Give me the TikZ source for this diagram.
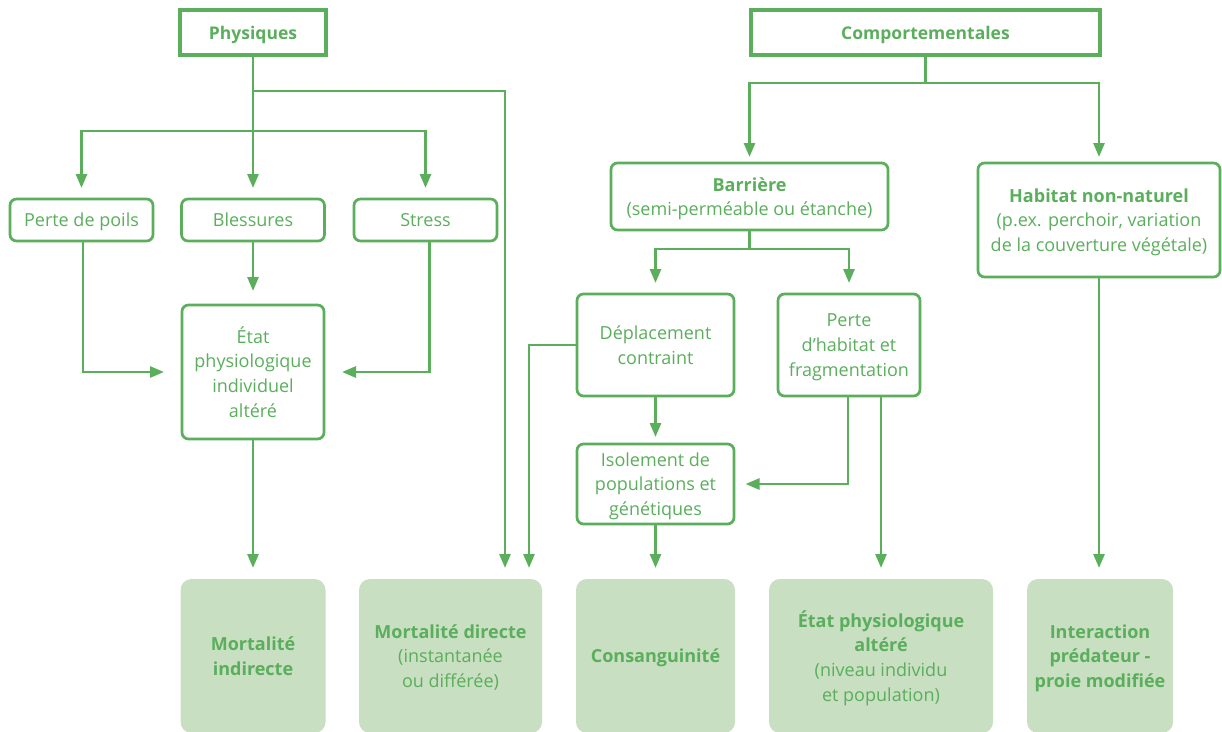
\documentclass[tikz,border=0pt]{standalone}
\usepackage{fontspec}
\setmainfont{Open Sans}
\usetikzlibrary{arrows.meta}
\definecolor{gr}{HTML}{5AAE5C}
\definecolor{lg}{HTML}{C8DFC1}
\tikzset{
 base/.style={font=\fontsize{18}{24.8}\selectfont, text=gr, align=center, inner sep=0pt, outer sep=0pt, text depth=0pt},
 box/.style={base, draw=gr, line width=2.7pt, rounded corners=6.5pt},
 titlebox/.style={base, draw=gr, line width=4.6pt, font=\fontsize{17.5}{24.8}\selectfont\bfseries},
 result/.style={base, fill=lg, rounded corners=11pt, minimum height=154pt},
 link/.style={draw=gr, line width=2.7pt},
 conn/.style={link, -{Triangle[length=14pt,width=11pt]}}
}
\begin{document}
\begin{tikzpicture}[x=1pt,y=-1pt]
\useasboundingbox (0,0) rectangle (1222,731);
% title boxes
\node[titlebox, minimum width=146pt, minimum height=45pt] (phys) at (253,32.5) {Physiques};
\node[titlebox, minimum width=349pt, minimum height=45pt] (comp) at (925.5,32.5) {Comportementales};
% left branch
\node[box, minimum width=143pt, minimum height=42pt] (perte) at (81.5,220) {Perte de poils};
\node[box, minimum width=143pt, minimum height=42pt] (bless) at (253,220) {Blessures};
\node[box, minimum width=143pt, minimum height=42pt] (stress) at (425.5,220) {Stress};
\node[box, minimum width=142pt, minimum height=134pt] (etat) at (253,372) {État\\physiologique\\individuel\\altéré};
% right branch
\node[box, minimum width=277pt, minimum height=67pt] (barr) at (749.5,196.5) {\textbf{Barrière}\\(semi-perméable ou étanche)};
\node[box, minimum width=242pt, minimum height=114pt] (habit) at (1099,220) {\textbf{Habitat non-naturel}\\(p.ex. perchoir, variation\\de la couverture végétale)};
\node[box, minimum width=157pt, minimum height=102pt] (depl) at (655.5,345) {Déplacement\\contraint};
\node[box, minimum width=142pt, minimum height=102pt] (pertehab) at (849,345) {Perte\\d’habitat et\\fragmentation};
\node[box, minimum width=157pt, minimum height=80pt] (isol) at (655.5,484) {Isolement de\\populations et\\génétiques};
% results
\node[result, minimum width=145pt] (mind) at (253,656) {\textbf{Mortalité}\\\textbf{indirecte}};
\node[result, minimum width=183pt] (mdir) at (450.5,656) {\textbf{Mortalité directe}\\(instantanée\\ou différée)};
\node[result, minimum width=159pt] (cons) at (655.5,656) {\textbf{Consanguinité}};
\node[result, minimum width=224pt] (etatpop) at (881,656) {\textbf{État physiologique}\\\textbf{altéré}\\(niveau individu\\et population)};
\node[result, minimum width=146pt] (inter) at (1100,656) {\textbf{Interaction}\\\textbf{prédateur -}\\\textbf{proie modifiée}};
% junctions
\coordinate (pj0) at (253,91);
\coordinate (pj1) at (253,131);
\coordinate (cj) at (925.5,83);
\coordinate (bj) at (749.5,249);
% connectors: Physiques
\draw[link] (phys.south) -- (pj1);
\draw[conn, shorten >=11pt] (pj1) -- (bless.north);
\draw[conn, shorten >=11pt] (pj1) -| (perte.north);
\draw[conn, shorten >=11pt] (pj1) -| (stress.north);
\draw[conn, shorten >=11pt] (pj0) -| ([xshift=54.5pt]mdir.north);
\draw[conn, shorten >=18pt] ([xshift=1.5pt]perte.south) |- (etat.west);
\draw[conn, shorten >=14pt] (bless.south) -- (etat.north);
\draw[conn, shorten >=18pt] ([xshift=4pt]stress.south) |- (etat.east);
\draw[conn, shorten >=11pt] (etat.south) -- (mind.north);
% connectors: Comportementales
\draw[link] (comp.south) -- (cj);
\draw[conn, shorten >=6pt] (cj) -| (barr.north);
\draw[conn, shorten >=6pt] (cj) -| (habit.north);
\draw[link] (barr.south) -- (bj);
\draw[conn, shorten >=11pt] (bj) -| (depl.north);
\draw[conn, shorten >=11pt] (bj) -| (pertehab.north);
\draw[conn, shorten >=7pt] (depl.south) -- (isol.north);
\draw[conn, shorten >=11pt] (depl.west) -| ([xshift=78.5pt]mdir.north);
\draw[conn, shorten >=11.5pt] ([xshift=-1pt]pertehab.south) |- (isol.east);
\draw[conn, shorten >=11pt] ([xshift=32pt]pertehab.south) -- (etatpop.north);
\draw[conn, shorten >=11pt] (isol.south) -- (cons.north);
\draw[conn, shorten >=11pt] (habit.south) -- (habit.south |- inter.north);
\end{tikzpicture}
\end{document}
